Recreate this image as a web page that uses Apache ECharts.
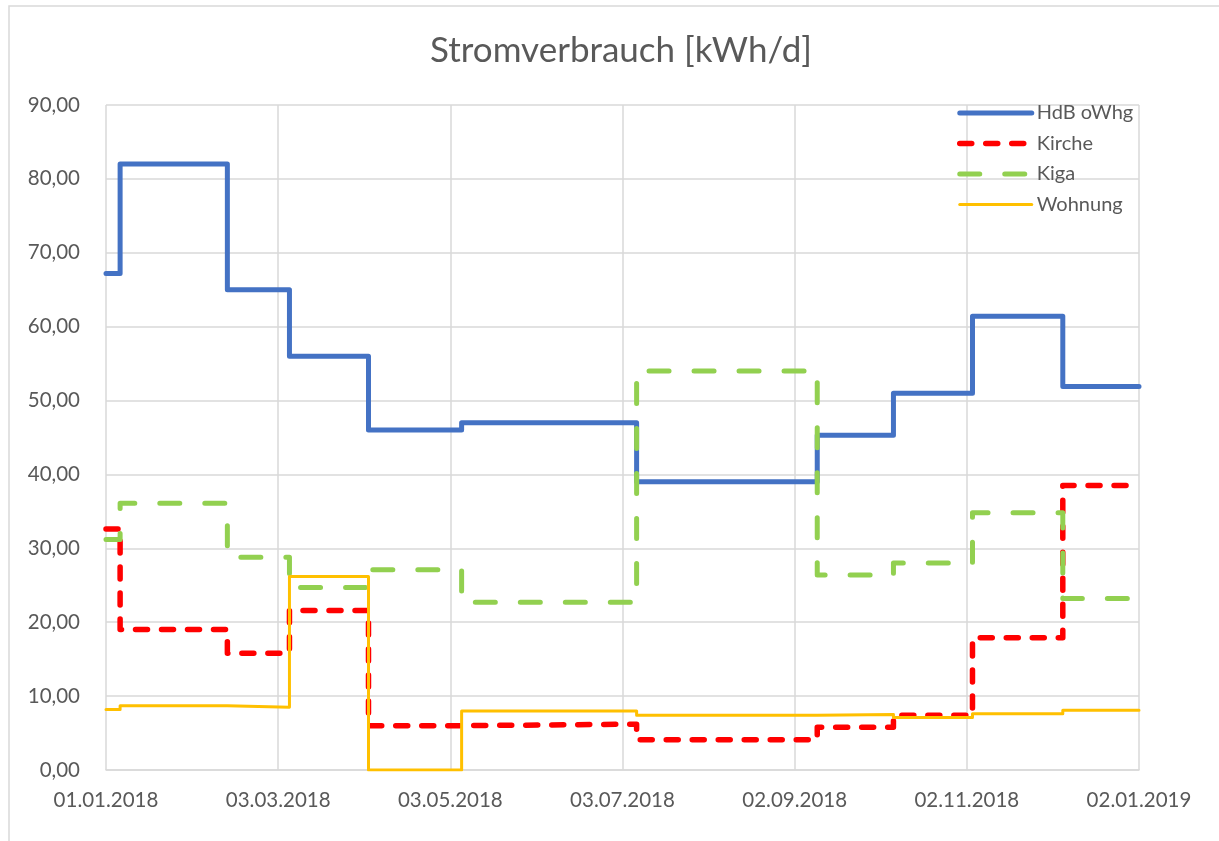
<!DOCTYPE html>
<html>
<head>
<meta charset="utf-8">
<script src="https://cdn.jsdelivr.net/npm/echarts@6/dist/echarts.min.js"></script>
<style>
    html, body { margin: 0; padding: 0; background: #fff; }
    #chart { width: 1219px; height: 841px; }
</style>
</head>
<body>
<div id="chart"></div>
<script>
// Ablesedaten (Stufen gelten ab dem jeweiligen Datum)
var dates = ["2018-01-01", "2018-01-06", "2018-02-13", "2018-03-07", "2018-04-04", "2018-05-07",
    "2018-07-08", "2018-09-10", "2018-10-07", "2018-11-04", "2018-12-06", "2019-01-02"];
var hdb = [67.2, 82.0, 65.0, 56.0, 46.0, 47.0, 39.0, 45.3, 51.0, 61.4, 51.9, 51.9];
var kirche = [32.6, 19.0, 15.8, 21.6, 6.0, 6.2, 4.1, 5.8, 7.4, 17.9, 38.5, 38.5];
var kiga = [31.2, 36.1, 28.8, 24.7, 27.1, 22.7, 54.0, 26.4, 28.0, 34.8, 23.2, 23.2];
var wohnung = [8.2, 8.7, 8.5, 26.2, 0.0, 8.0, 7.4, 7.5, 7.1, 7.6, 8.1, 8.1];
var seriesNames = ["HdB oWhg", "Kirche", "Kiga", "Wohnung"];

var DAY = 86400000;
var start = Date.UTC(2018, 0, 1);

/**
 * Datum -> Tage seit 01.01.2018
 */
function dayOffset(s) {
    var p = s.split("-");
    return Math.round((Date.UTC(+p[0], +p[1] - 1, +p[2]) - start) / DAY);
}

function pad(n) {
    return (n < 10 ? "0" : "") + n;
}

function formatDay(v) {
    var d = new Date(start + v * DAY);
    return pad(d.getUTCDate()) + "." + pad(d.getUTCMonth() + 1) + "." + d.getUTCFullYear();
}

function pairs(values) {
    return dates.map(function (d, i) {
        return [dayOffset(d), values[i]];
    });
}

function lineStyle(color, width, dash) {
    return {
        color: color,
        width: width,
        type: dash || "solid",
        cap: "round",
        join: "round"
    };
}

function stepSeries(name, values, color, width, dash) {
    return {
        name: name,
        type: "line",
        step: "end",
        symbol: "none",
        data: pairs(values),
        lineStyle: lineStyle(color, width, dash),
        itemStyle: { color: color }
    };
}

var styles = [
    ["#4472C4", 5, null],
    ["#FF0000", 5.5, [12, 14]],
    ["#92D050", 5, [20, 25]],
    ["#FFC000", 3, null]
];

var font = "Lato";
var chart = echarts.init(document.getElementById("chart"));
chart.setOption({
    animation: false,
    backgroundColor: "#fff",
    graphic: [{
        type: "rect",
        shape: { x: 9, y: 6, width: 1300, height: 900 },
        style: { fill: "none", stroke: "#D9D9D9", lineWidth: 1.5 },
        silent: true
    }],
    title: {
        text: "Stromverbrauch [kWh/d]",
        left: 616,
        top: 28,
        textAlign: "center",
        textStyle: { fontFamily: font, fontSize: 35, fontWeight: "normal", color: "#595959" }
    },
    legend: {
        orient: "vertical",
        left: 952,
        top: 98,
        itemWidth: 72,
        itemHeight: 14,
        itemGap: 10.5,
        itemStyle: { opacity: 0 },
        data: seriesNames.map(function (n, i) {
            return { name: n, lineStyle: lineStyle(styles[i][0], styles[i][1], styles[i][2]) };
        }),
        textStyle: { fontFamily: font, fontSize: 20, lineHeight: 19, color: "#595959", padding: [0, 0, 0, 0] }
    },
    grid: { left: 106, right: 80, top: 105, bottom: 71 },
    xAxis: {
        type: "value",
        min: 0,
        max: 366,
        interval: 61,
        axisLine: { show: true, lineStyle: { color: "#D9D9D9", width: 1.5 } },
        axisTick: { show: false },
        splitLine: { show: true, lineStyle: { color: "#D9D9D9", width: 1.5 } },
        axisLabel: {
            formatter: formatDay,
            fontFamily: font,
            fontSize: 20.5,
            color: "#595959",
            margin: 20
        }
    },
    yAxis: {
        type: "value",
        min: 0,
        max: 90,
        interval: 10,
        axisLine: { show: false },
        axisTick: { show: false },
        splitLine: { lineStyle: { color: "#D9D9D9", width: 1.5 } },
        axisLabel: {
            formatter: function (v) { return v.toFixed(2).replace(".", ","); },
            fontFamily: font,
            fontSize: 20.5,
            color: "#595959",
            margin: 26
        }
    },
    series: styles.map(function (s, i) {
        return stepSeries(seriesNames[i], [hdb, kirche, kiga, wohnung][i], s[0], s[1], s[2]);
    })
});
</script>
</body>
</html>
